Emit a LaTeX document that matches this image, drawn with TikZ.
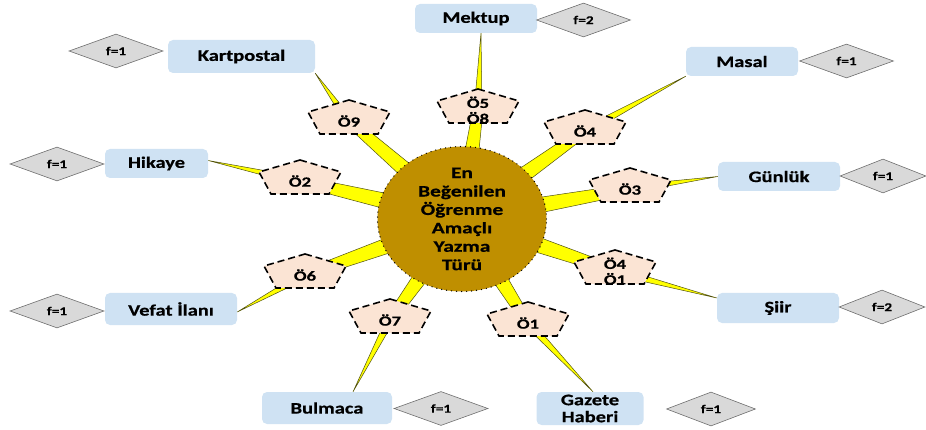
\documentclass[tikz,border=0pt]{standalone}
\usepackage{fontspec}
\setmainfont{Carlito}
\newfontfamily\lblfont{Carlito}[FakeStretch=1.28, FakeBold=0.6]
\newfontfamily\corefont{Carlito}[FakeStretch=1.34, FakeBold=0.6]
\usetikzlibrary{shapes.geometric,calc}
\pgfdeclarelayer{spikes}
\pgfdeclarelayer{shapes}
\pgfsetlayers{spikes,shapes,main}

\definecolor{boxblue}{RGB}{207,226,243}
\definecolor{freqgray}{RGB}{217,217,217}
\definecolor{freqline}{RGB}{110,110,110}
\definecolor{pentfill}{RGB}{251,228,212}
\definecolor{coregold}{RGB}{191,143,0}
\definecolor{rayyellow}{RGB}{255,255,0}
\definecolor{rayedge}{RGB}{80,80,20}

% pentagon outline around a label node
\newcommand\pentfig[1]{%
  \filldraw[pentline] ([shift={(0,-21)}]#1.center) -- ([shift={(41,-9)}]#1.center)
    -- ([shift={(29,13)}]#1.center) -- ([shift={(-29,13)}]#1.center)
    -- ([shift={(-41,-9)}]#1.center) -- cycle;}

% tapered ray: core -> pentagon -> tip coordinate
\newcommand\ray[3]{%
  \filldraw[rayfill] ($(#1)!10pt!90:(#2)$) -- ($(#2)!5pt!-90:(#1)$)
    -- ($(#2)!5pt!90:(#1)$) -- ($(#1)!10pt!-90:(#2)$) -- cycle;
  \filldraw[rayfill] ($(#2)!4pt!90:(#3)$) -- (#3) -- ($(#2)!4pt!-90:(#3)$) -- cycle;}

\begin{document}
\begin{tikzpicture}[x=1pt,y=-1pt,
  topic/.style={rectangle, rounded corners=5pt, fill=boxblue, inner sep=0pt,
    minimum height=29pt, align=center,
    font=\lblfont\bfseries\fontsize{16}{17}\selectfont},
  freq/.style={diamond, fill=freqgray, draw=freqline, line width=0.6pt,
    inner sep=0pt, minimum width=94pt, minimum height=34pt,
    font=\lblfont\bfseries\fontsize{12}{13}\selectfont},
  pentlabel/.style={inner sep=0pt, align=center,
    font=\corefont\bfseries\fontsize{14}{15.5}\selectfont},
  pentline/.style={fill=pentfill, draw=black, line width=1.6pt,
    dash pattern=on 7pt off 4pt},
  rayfill/.style={fill=rayyellow, draw=rayedge, line width=0.5pt, line join=miter},
  core/.style={ellipse, fill=coregold, draw=black, line width=1.4pt,
    dash pattern=on 0pt off 5pt, line cap=round, inner sep=0pt,
    minimum width=169pt, minimum height=118pt, align=center,
    font=\corefont\bfseries\fontsize{16}{18.4}\selectfont}]

\useasboundingbox (0,0) rectangle (926,430);

% central theme
\node[core] (c) at (462,219) {En\\Beğenilen\\Öğrenme\\Amaçlı\\Yazma\\Türü};

% writing types
\node[topic, minimum width=122pt] (mek) at (476,18.5) {Mektup};
\node[topic, minimum width=147pt, minimum height=33pt] (kart) at (241.5,56.5) {Kartpostal};
\node[topic, minimum width=112pt] (mas) at (742,61.5) {Masal};
\node[topic, minimum width=103pt] (hik) at (156.5,163.5) {Hikaye};
\node[topic, minimum width=122pt] (gun) at (779,176.5) {Günlük};
\node[topic, minimum width=132pt, minimum height=32pt] (vef) at (171,309) {Vefat İlanı};
\node[topic, minimum width=122pt, minimum height=30pt] (siir) at (778,308) {Şiir};
\node[topic, minimum width=130pt, minimum height=32pt] (bul) at (327,408) {Bulmaca};
\node[topic, minimum width=107pt, minimum height=33pt] (gaz) at (590,408.5) {Gazete\\Haberi};

% frequencies
\node[freq] (fmek) at (583.5,20) {f=2};
\node[freq] (fkart) at (116,51) {f=1};
\node[freq] (fmas) at (846.5,61) {f=1};
\node[freq] (fhik) at (57,164) {f=1};
\node[freq, minimum width=86pt] (fgun) at (883,176) {f=1};
\node[freq] (fvef) at (57,311) {f=1};
\node[freq, minimum width=86pt] (fsiir) at (882,307) {f=2};
\node[freq] (fbul) at (441,408.5) {f=1};
\node[freq, minimum width=89pt] (fgaz) at (711,409) {f=1};

% student codes
\node[pentlabel] (p9) at (349,121) {Ö9};
\node[pentlabel] (p58) at (478,110) {Ö5\\Ö8};
\node[pentlabel] (p4) at (585,131) {Ö4};
\node[pentlabel] (p2) at (300,181) {Ö2};
\node[pentlabel] (p3) at (630,189) {Ö3};
\node[pentlabel] (p6) at (305,275) {Ö6};
\node[pentlabel] (p41) at (615,271) {Ö4\\Ö1};
\node[pentlabel] (p7) at (390,320) {Ö7};
\node[pentlabel] (p1) at (528,323) {Ö1};

% ray tips on the boxes
\coordinate (tmek) at ([xshift=5pt]mek.south);
\coordinate (tkart) at (kart.south east);
\coordinate (tmas) at (mas.south west);
\coordinate (thik) at ([yshift=3pt]hik.east);
\coordinate (tgun) at (gun.west);
\coordinate (tvef) at ([yshift=-3pt]vef.east);
\coordinate (tsiir) at ([yshift=10pt]siir.west);
\coordinate (tbul) at ([xshift=26pt]bul.north);
\coordinate (tgaz) at ([xshift=3pt]gaz.north);

\begin{pgfonlayer}{spikes}
  \ray{c.center}{p58.center}{tmek}
  \ray{c.center}{p9.center}{tkart}
  \ray{c.center}{p4.center}{tmas}
  \ray{c.center}{p2.center}{thik}
  \ray{c.center}{p3.center}{tgun}
  \ray{c.center}{p6.center}{tvef}
  \ray{c.center}{p41.center}{tsiir}
  \ray{c.center}{p7.center}{tbul}
  \ray{c.center}{p1.center}{tgaz}
\end{pgfonlayer}

\begin{pgfonlayer}{shapes}
  \foreach \p in {p9,p58,p4,p2,p3,p6,p41,p7,p1} {\pentfig{\p}}
\end{pgfonlayer}

\end{tikzpicture}
\end{document}
